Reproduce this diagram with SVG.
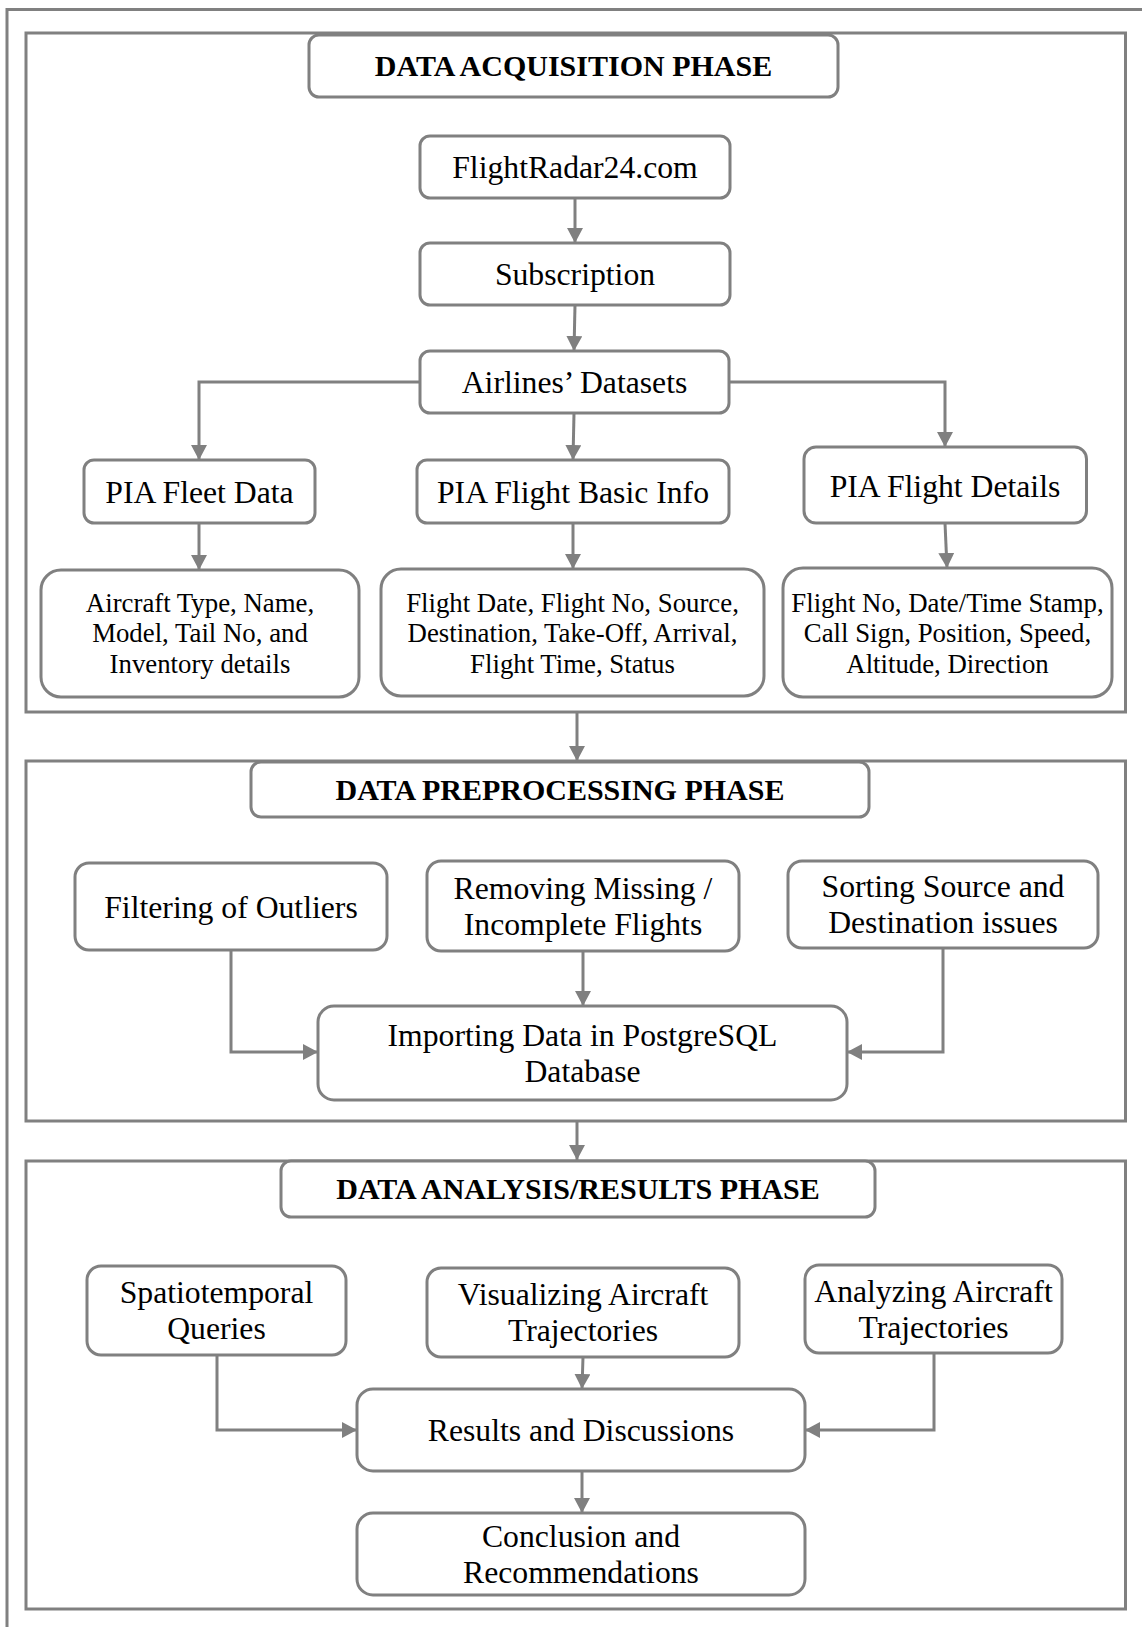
<svg xmlns="http://www.w3.org/2000/svg" width="1142" height="1627" viewBox="0 0 1142 1627">
<style>
.frame{fill:none;stroke:#808080;stroke-width:3}
.box{fill:#fff;stroke:#808080;stroke-width:3}
.title{font-family:"Liberation Serif","Times New Roman",serif;font-size:30px;font-weight:bold;fill:#000;text-anchor:middle}
.t{font-family:"Liberation Serif","Times New Roman",serif;font-size:31.7px;fill:#000;text-anchor:middle}
.s{font-family:"Liberation Serif","Times New Roman",serif;font-size:26.8px;fill:#000;text-anchor:middle}
.c{fill:none;stroke:#808080;stroke-width:3;marker-end:url(#ah)}
</style>
<defs>
<marker id="ah" viewBox="0 0 15 16" refX="15" refY="8" markerWidth="15" markerHeight="16" markerUnits="userSpaceOnUse" orient="auto">
<path d="M0,0 L15,8 L0,16 z" fill="#808080"/>
</marker>
</defs>
<rect width="1142" height="1627" fill="#fff"/>
<path class="frame" d="M7,1630 V9.5 H1145"/>
<g id="phase1"><rect class="frame" x="26" y="33" width="1099.5" height="679"/></g>
<g id="phase2"><rect class="frame" x="26" y="761" width="1099.5" height="360"/></g>
<g id="phase3"><rect class="frame" x="26" y="1161" width="1099.5" height="448"/></g>

<g id="connectors">
<line class="c" x1="575" y1="198" x2="575" y2="243"/>
<line class="c" x1="575" y1="305" x2="574" y2="351"/>
<path class="c" d="M419,382 H199 V460"/>
<line class="c" x1="574" y1="413" x2="573" y2="460"/>
<path class="c" d="M729,382 H945 V447"/>
<line class="c" x1="199" y1="523" x2="199" y2="570"/>
<line class="c" x1="573" y1="523" x2="573" y2="569"/>
<line class="c" x1="945" y1="523" x2="947" y2="568"/>
<line class="c" x1="577" y1="712" x2="577" y2="761"/>
<path class="c" d="M231,950 V1052 H318"/>
<line class="c" x1="583" y1="951" x2="583" y2="1006"/>
<path class="c" d="M943,948 V1052 H847"/>
<line class="c" x1="577" y1="1121" x2="577" y2="1160"/>
<path class="c" d="M217,1355 V1430 H357"/>
<line class="c" x1="583" y1="1357" x2="582" y2="1389"/>
<path class="c" d="M934,1353 V1430 H805"/>
<line class="c" x1="582" y1="1471" x2="582" y2="1513"/>
</g>

<g id="title1"><rect class="box" x="309" y="35" width="529" height="62" rx="10"/><text class="title" x="573.5" y="76">DATA ACQUISITION PHASE</text></g>
<g id="flightradar"><rect class="box" x="420" y="136" width="310" height="62" rx="10"/><text class="t" x="575" y="178">FlightRadar24.com</text></g>
<g id="subscription"><rect class="box" x="420" y="243" width="310" height="62" rx="10"/><text class="t" x="575" y="285">Subscription</text></g>
<g id="airlines"><rect class="box" x="420" y="351" width="309" height="62" rx="10"/><text class="t" x="574.5" y="393">Airlines’ Datasets</text></g>
<g id="fleet"><rect class="box" x="84" y="460" width="231" height="63" rx="10"/><text class="t" x="199.5" y="503">PIA Fleet Data</text></g>
<g id="basic"><rect class="box" x="417" y="460" width="312" height="63" rx="10"/><text class="t" x="573" y="503">PIA Flight Basic Info</text></g>
<g id="details"><rect class="box" x="804" y="447" width="282.5" height="76" rx="12"/><text class="t" x="945" y="497">PIA Flight Details</text></g>
<g id="fleetdetail"><rect class="box" x="41" y="570" width="318" height="127" rx="20"/>
<text class="s" x="200" y="612">Aircraft Type, Name,</text><text class="s" x="200" y="642">Model, Tail No, and</text><text class="s" x="200" y="673">Inventory details</text></g>
<g id="basicdetail"><rect class="box" x="381" y="569" width="383" height="127" rx="20"/>
<text class="s" x="572.5" y="612">Flight Date, Flight No, Source,</text><text class="s" x="572.5" y="642">Destination, Take-Off, Arrival,</text><text class="s" x="572.5" y="673">Flight Time, Status</text></g>
<g id="detailsdetail"><rect class="box" x="783" y="568" width="329" height="129" rx="20"/>
<text class="s" x="947.5" y="612">Flight No, Date/Time Stamp,</text><text class="s" x="947.5" y="642">Call Sign, Position, Speed,</text><text class="s" x="947.5" y="673">Altitude, Direction</text></g>

<g id="title2"><rect class="box" x="251" y="762" width="618" height="55" rx="10"/><text class="title" x="560" y="800">DATA PREPROCESSING PHASE</text></g>
<g id="filtering"><rect class="box" x="75" y="863" width="312" height="87" rx="14"/><text class="t" x="231" y="917.5">Filtering of Outliers</text></g>
<g id="removing"><rect class="box" x="427" y="861" width="312" height="90" rx="14"/><text class="t" x="583" y="899">Removing Missing /</text><text class="t" x="583" y="935">Incomplete Flights</text></g>
<g id="sorting"><rect class="box" x="788" y="861" width="310" height="87" rx="14"/><text class="t" x="943" y="897">Sorting Source and</text><text class="t" x="943" y="933">Destination issues</text></g>
<g id="importing"><rect class="box" x="318" y="1006" width="529" height="94" rx="16"/><text class="t" x="582.5" y="1046">Importing Data in PostgreSQL</text><text class="t" x="582.5" y="1082">Database</text></g>

<g id="title3"><rect class="box" x="281" y="1161" width="594" height="56" rx="10"/><text class="title" x="578" y="1199">DATA ANALYSIS/RESULTS PHASE</text></g>
<g id="spatio"><rect class="box" x="87" y="1266" width="259" height="89" rx="14"/><text class="t" x="216.5" y="1303">Spatiotemporal</text><text class="t" x="216.5" y="1339">Queries</text></g>
<g id="visualizing"><rect class="box" x="427" y="1268" width="312" height="89" rx="14"/><text class="t" x="583" y="1305">Visualizing Aircraft</text><text class="t" x="583" y="1341">Trajectories</text></g>
<g id="analyzing"><rect class="box" x="805" y="1265" width="257" height="88" rx="14"/><text class="t" x="933.5" y="1302">Analyzing Aircraft</text><text class="t" x="933.5" y="1338">Trajectories</text></g>
<g id="results"><rect class="box" x="357" y="1389" width="448" height="82" rx="16"/><text class="t" x="581" y="1441">Results and Discussions</text></g>
<g id="conclusion"><rect class="box" x="357" y="1513" width="448" height="82" rx="16"/><text class="t" x="581" y="1547">Conclusion and</text><text class="t" x="581" y="1583">Recommendations</text></g>
</svg>
